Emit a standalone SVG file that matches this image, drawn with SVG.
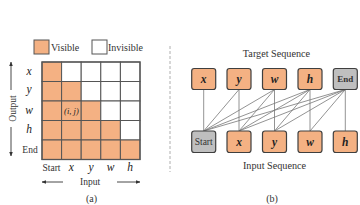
<svg xmlns="http://www.w3.org/2000/svg" width="360" height="205" viewBox="0 0 360 205">
<defs>
<style>
.t{font-family:"Liberation Serif","DejaVu Serif",serif;fill:#333;}
.it{font-family:"Liberation Serif","DejaVu Serif",serif;font-style:italic;fill:#222;}
.on{fill:#F4B183;stroke:#555;stroke-width:1;}
.off{fill:#fff;stroke:#555;stroke-width:1;}
.box{fill:#F4B183;stroke:#3f3f3f;stroke-width:1.2;}
.gbox{fill:#BFBFBF;stroke:#3f3f3f;stroke-width:1.2;}
.ax{stroke:#333;stroke-width:0.9;fill:none;}
.cn{stroke:#777;stroke-width:0.8;fill:none;}
</style>
<marker id="ah" viewBox="0 0 10 10" refX="9" refY="5" markerWidth="5" markerHeight="5" orient="auto-start-reverse">
<path d="M0,1 L10,5 L0,9 z" fill="#333"/>
</marker>
</defs>
<rect width="360" height="205" fill="#fff"/>

<!-- panel (a) -->
<g id="legend">
<rect x="34" y="40" width="15" height="14" class="on" stroke-width="1.2"/>
<text x="51" y="51" class="t" font-size="10">Visible</text>
<rect x="92" y="40" width="15" height="14" class="off" stroke-width="1.2"/>
<text x="108" y="51" class="t" font-size="10">Invisible</text>
</g>

<g id="grid">
<rect x="42" y="62" width="19.6" height="19.5" class="on"/>
<rect x="61.6" y="62" width="19.6" height="19.5" class="off"/>
<rect x="81.2" y="62" width="19.6" height="19.5" class="off"/>
<rect x="100.8" y="62" width="19.6" height="19.5" class="off"/>
<rect x="120.4" y="62" width="19.6" height="19.5" class="off"/>

<rect x="42" y="81.5" width="19.6" height="19.5" class="on"/>
<rect x="61.6" y="81.5" width="19.6" height="19.5" class="on"/>
<rect x="81.2" y="81.5" width="19.6" height="19.5" class="off"/>
<rect x="100.8" y="81.5" width="19.6" height="19.5" class="off"/>
<rect x="120.4" y="81.5" width="19.6" height="19.5" class="off"/>

<rect x="42" y="101" width="19.6" height="19.5" class="on"/>
<rect x="61.6" y="101" width="19.6" height="19.5" class="on"/>
<rect x="81.2" y="101" width="19.6" height="19.5" class="on"/>
<rect x="100.8" y="101" width="19.6" height="19.5" class="off"/>
<rect x="120.4" y="101" width="19.6" height="19.5" class="off"/>

<rect x="42" y="120.5" width="19.6" height="19.5" class="on"/>
<rect x="61.6" y="120.5" width="19.6" height="19.5" class="on"/>
<rect x="81.2" y="120.5" width="19.6" height="19.5" class="on"/>
<rect x="100.8" y="120.5" width="19.6" height="19.5" class="on"/>
<rect x="120.4" y="120.5" width="19.6" height="19.5" class="off"/>

<rect x="42" y="140" width="19.6" height="19.5" class="on"/>
<rect x="61.6" y="140" width="19.6" height="19.5" class="on"/>
<rect x="81.2" y="140" width="19.6" height="19.5" class="on"/>
<rect x="100.8" y="140" width="19.6" height="19.5" class="on"/>
<rect x="120.4" y="140" width="19.6" height="19.5" class="on"/>
<rect x="42" y="62" width="98" height="97.5" fill="none" stroke="#555" stroke-width="1.3"/>
<text x="71.4" y="114" class="it" font-size="8.5" text-anchor="middle" fill="#4a3220">(i, j)</text>
</g>

<g id="row-labels" text-anchor="middle">
<text x="29" y="75" class="it" font-size="11.5">x</text>
<text x="29" y="93" class="it" font-size="11.5">y</text>
<text x="29" y="114" class="it" font-size="11.5">w</text>
<text x="29" y="133" class="it" font-size="11.5">h</text>
<text x="30" y="152.5" class="t" font-size="9.5">End</text>
</g>

<g id="col-labels" text-anchor="middle">
<text x="51.5" y="171" class="t" font-size="9.5">Start</text>
<text x="71.4" y="171" class="it" font-size="11.5">x</text>
<text x="91" y="171" class="it" font-size="11.5">y</text>
<text x="110.6" y="171" class="it" font-size="11.5">w</text>
<text x="130.2" y="171" class="it" font-size="11.5">h</text>
</g>

<g id="axes">
<line x1="11" y1="90" x2="11" y2="62" class="ax" marker-end="url(#ah)"/>
<line x1="11" y1="127" x2="11" y2="156" class="ax" marker-end="url(#ah)"/>
<text x="11" y="113" class="t" font-size="9.5" text-anchor="middle" transform="rotate(-90 11 108.5)">Output</text>
<line x1="63" y1="182" x2="42" y2="182" class="ax" marker-end="url(#ah)"/>
<line x1="117" y1="182" x2="140" y2="182" class="ax" marker-end="url(#ah)"/>
<text x="90" y="185" class="t" font-size="9.5" text-anchor="middle">Input</text>
<text x="91.5" y="202" class="t" font-size="10" text-anchor="middle">(a)</text>
</g>

<line id="divider" x1="170" y1="46" x2="170" y2="172" stroke="#999" stroke-width="0.8" stroke-dasharray="3,2"/>

<!-- panel (b) -->
<text x="276.5" y="57" class="t" font-size="10.2" text-anchor="middle">Target Sequence</text>
<text x="274.5" y="169" class="t" font-size="10.2" text-anchor="middle">Input Sequence</text>
<text x="272" y="202" class="t" font-size="10" text-anchor="middle">(b)</text>

<g id="connectors">
<line x1="203.7" y1="89.5" x2="203.7" y2="131" class="cn"/>
<line x1="239" y1="89.5" x2="203.7" y2="131" class="cn"/>
<line x1="239" y1="89.5" x2="239" y2="131" class="cn"/>
<line x1="274.5" y1="89.5" x2="203.7" y2="131" class="cn"/>
<line x1="274.5" y1="89.5" x2="239" y2="131" class="cn"/>
<line x1="274.5" y1="89.5" x2="274.5" y2="131" class="cn"/>
<line x1="310" y1="89.5" x2="203.7" y2="131" class="cn"/>
<line x1="310" y1="89.5" x2="239" y2="131" class="cn"/>
<line x1="310" y1="89.5" x2="274.5" y2="131" class="cn"/>
<line x1="310" y1="89.5" x2="310" y2="131" class="cn"/>
<line x1="345.3" y1="89.5" x2="203.7" y2="131" class="cn"/>
<line x1="345.3" y1="89.5" x2="239" y2="131" class="cn"/>
<line x1="345.3" y1="89.5" x2="274.5" y2="131" class="cn"/>
<line x1="345.3" y1="89.5" x2="310" y2="131" class="cn"/>
<line x1="345.3" y1="89.5" x2="345.3" y2="131" class="cn"/>
</g>

<g id="t-x"><rect x="191.7" y="68.5" width="24" height="21" rx="2.5" class="box"/><text x="203.7" y="83" class="it" font-size="11.5" font-weight="bold" text-anchor="middle">x</text></g>
<g id="t-y"><rect x="227" y="68.5" width="24" height="21" rx="2.5" class="box"/><text x="239" y="83" class="it" font-size="11.5" font-weight="bold" text-anchor="middle">y</text></g>
<g id="t-w"><rect x="262.5" y="68.5" width="24" height="21" rx="2.5" class="box"/><text x="274.5" y="83" class="it" font-size="11.5" font-weight="bold" text-anchor="middle">w</text></g>
<g id="t-h"><rect x="298" y="68.5" width="24" height="21" rx="2.5" class="box"/><text x="310" y="83" class="it" font-size="11.5" font-weight="bold" text-anchor="middle">h</text></g>
<g id="t-end"><rect x="333.3" y="68.5" width="24" height="21" rx="2.5" class="gbox"/><text x="345.3" y="82.3" class="t" font-size="9" font-weight="bold" text-anchor="middle">End</text></g>

<g id="i-start"><rect x="191.7" y="131" width="24" height="21.5" rx="2.5" class="gbox"/><text x="203.7" y="145" class="t" font-size="9.5" text-anchor="middle">Start</text></g>
<g id="i-x"><rect x="227" y="131" width="24" height="21.5" rx="2.5" class="box"/><text x="239" y="145.5" class="it" font-size="11.5" font-weight="bold" text-anchor="middle">x</text></g>
<g id="i-y"><rect x="262.5" y="131" width="24" height="21.5" rx="2.5" class="box"/><text x="274.5" y="145.5" class="it" font-size="11.5" font-weight="bold" text-anchor="middle">y</text></g>
<g id="i-w"><rect x="298" y="131" width="24" height="21.5" rx="2.5" class="box"/><text x="310" y="145.5" class="it" font-size="11.5" font-weight="bold" text-anchor="middle">w</text></g>
<g id="i-h"><rect x="333.3" y="131" width="24" height="21.5" rx="2.5" class="box"/><text x="345.3" y="145.5" class="it" font-size="11.5" font-weight="bold" text-anchor="middle">h</text></g>
</svg>
